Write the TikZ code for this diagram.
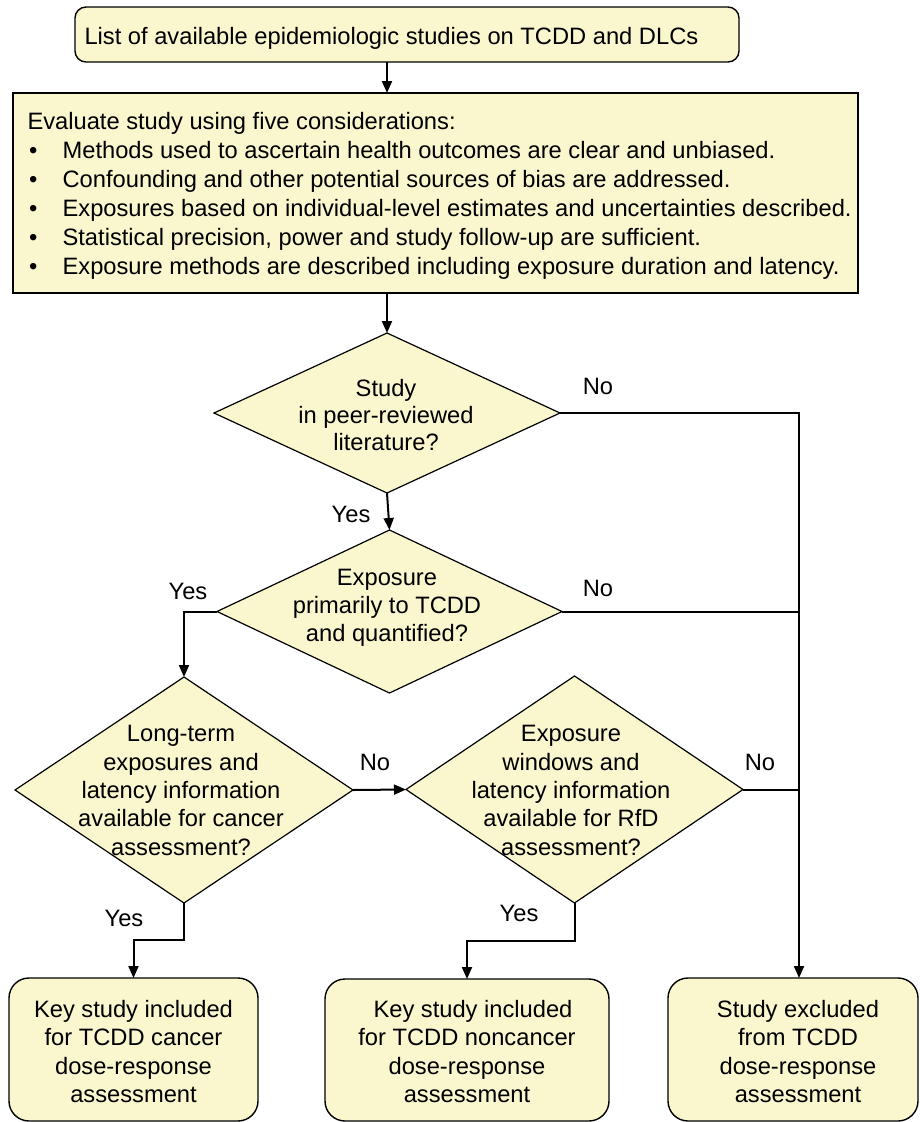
\documentclass[tikz,border=0pt]{standalone}
\usepackage{fontspec}
\setmainfont{Liberation Sans}
\usetikzlibrary{shapes.geometric,arrows.meta}
\definecolor{boxfill}{RGB}{250,246,206}
\begin{document}
\begin{tikzpicture}[x=1pt,y=-1pt,
  every node/.style={inner sep=0pt, outer sep=0pt},
  fnt/.style={font=\fontsize{23.7}{28.4}\selectfont},
  txt/.style={fnt, align=center},
  lbl/.style={fnt, anchor=base},
  ln/.style={fnt, anchor=base west},
  rbox/.style={draw, line width=1.4pt, fill=boxfill},
  dia/.style={diamond, draw, line width=1.2pt, fill=boxfill},
  conn/.style={line width=2pt},
  arr/.style={conn, -{Triangle[length=12pt,width=10pt]}}]
\useasboundingbox (0,0) rectangle (919,1122);

% boxes
\node[rbox, rounded corners=11pt, minimum width=664pt, minimum height=55pt] (top) at (407,34.5) {};
\node[ln] (toptxt) at (84.5,44) {List of available epidemiologic studies on TCDD and DLCs};

\node[rbox, minimum width=845pt, minimum height=200pt] (eval) at (435.5,193) {};
\node[ln] (e0) at (27.5,129) {Evaluate study using five considerations:};
\node[ln] (b1m) at (29,158) {•};
\node[ln] (e1) at (62.6,158) {Methods used to ascertain health outcomes are clear and unbiased.};
\node[ln] (b2m) at (29,187) {•};
\node[ln] (e2) at (62.6,187) {Confounding and other potential sources of bias are addressed.};
\node[ln] (b3m) at (29,216) {•};
\node[ln] (e3) at (62.6,216) {Exposures based on individual-level estimates and uncertainties described.};
\node[ln] (b4m) at (29,245) {•};
\node[ln] (e4) at (62.6,245) {Statistical precision, power and study follow-up are sufficient.};
\node[ln] (b5m) at (29,274) {•};
\node[ln] (e5) at (62.6,274) {Exposure methods are described including exposure duration and latency.};

% diamonds
\node[dia, minimum width=346pt, minimum height=160pt] (d1) at (387,413) {};
\node[txt, font=\fontsize{23.7}{27}\selectfont] (d1t) at (386,417.6) {\strut Study\\in peer-reviewed\\literature?\strut};

\node[dia, minimum width=345pt, minimum height=163pt] (d2) at (389.5,611.5) {};
\node[txt] (d2t) at (387,607.8) {\strut Exposure\\primarily to TCDD\\and quantified?\strut};

\node[dia, minimum width=338pt, minimum height=226pt] (d3) at (184,790) {};
\node[txt] (d3t) at (181,792.8) {\strut Long-term\\exposures and\\latency information\\available for cancer\\assessment?\strut};

\node[dia, minimum width=337pt, minimum height=227pt] (d4) at (574.5,789.5) {};
\node[txt] (d4t) at (571,792.8) {\strut Exposure\\windows and\\latency information\\available for RfD\\assessment?\strut};

% bottom boxes
\node[rbox, rounded corners=20pt, minimum width=249pt, minimum height=143pt] (b1) at (133.5,1049.5) {};
\node[txt] (b1t) at (133.5,1054.3) {\strut Key study included\\for TCDD cancer\\dose-response\\assessment\strut};

\node[rbox, rounded corners=20pt, minimum width=284pt, minimum height=142pt] (b2) at (467,1050) {};
\node[txt] (b2t) at (467,1054.3) {\strut\hspace*{12pt}Key study included\\for TCDD noncancer\\dose-response\\assessment\strut};

\node[rbox, rounded corners=20pt, minimum width=250pt, minimum height=143pt] (b3) at (793,1049.5) {};
\node[txt] (b3t) at (798,1054.3) {\strut Study excluded\\from TCDD\\dose-response\\assessment\strut};

\coordinate (exc) at (799,978);

% connectors
\draw[arr] (top.south -| d1.north) -- (eval.north -| d1.north);
\draw[arr] (eval.south -| d1.north) -- (d1.north);
\draw[arr] (d1.south) -- (d2.north);
\draw[arr] (d1.east) -| (exc);
\draw[conn] (d2.east) -- (d2.east -| exc);
\draw[conn] (d4.east) -- (d4.east -| exc);
\draw[arr] (d2.west) -| (d3.north);
\draw[arr] (d3.east) -- (d4.west);
\draw[arr] (d3.south) -- ++(0,37) -| (b1.north);
\draw[arr] (d4.south) -- ++(0,38) -| (b2.north);

% labels
\node[lbl] (n1) at (598,394) {No};
\node[lbl] (y1) at (351,522) {Yes};
\node[lbl] (n2) at (598,596) {No};
\node[lbl] (y2) at (188,599) {Yes};
\node[lbl] (n3) at (375,770) {No};
\node[lbl] (n4) at (760,770) {No};
\node[lbl] (y3) at (124,926) {Yes};
\node[lbl] (y4) at (519,921) {Yes};
\end{tikzpicture}
\end{document}
